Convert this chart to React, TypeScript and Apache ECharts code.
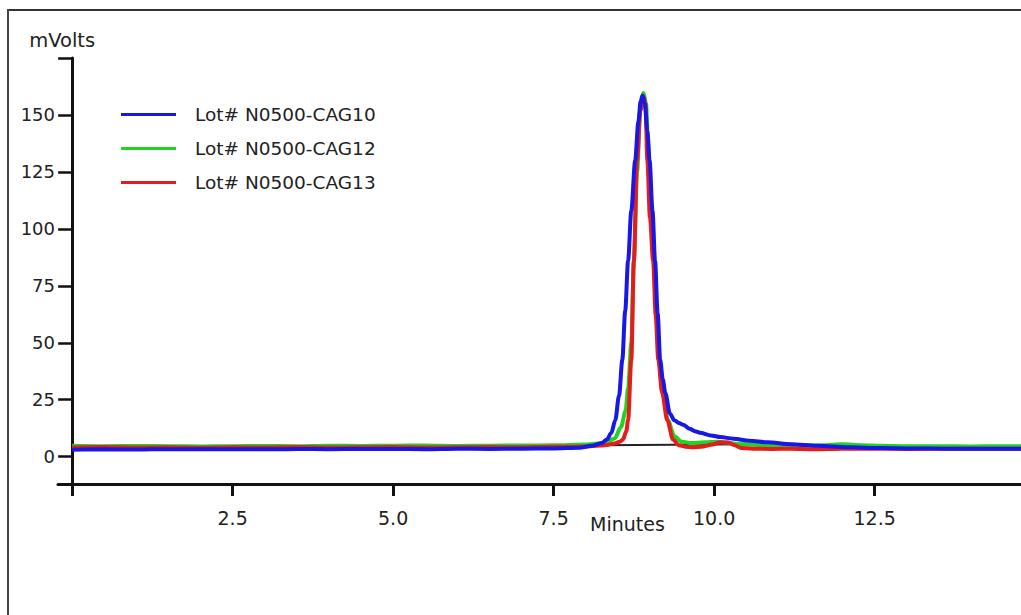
import React, { useEffect, useRef } from "react";
import * as echarts from "echarts";

const FONT = "DejaVu Sans";

const seriesNames = ["Lot# N0500-CAG10", "Lot# N0500-CAG12", "Lot# N0500-CAG13"];
const seriesColors = ["#1717e6", "#22d422", "#e61c1c"];

const blueX = [0, 0.5, 1, 1.5, 2, 2.5, 3, 3.5, 4, 4.5, 5, 5.5, 6, 6.5, 7, 7.5, 7.9, 8.1, 8.25, 8.33, 8.4, 8.46, 8.52, 8.57, 8.615, 8.66, 8.71, 8.77, 8.82, 8.855, 8.885, 8.92, 8.96, 8.995, 9.04, 9.08, 9.12, 9.16, 9.2, 9.24, 9.31, 9.38, 9.45, 9.52, 9.62, 9.7, 9.78, 9.95, 10.1, 10.3, 10.55, 10.83, 11.2, 11.6, 12.1, 12.6, 13.1, 13.6, 14.1, 14.78];
const blueY = [3.0, 3.2, 3.1, 3.3, 3.2, 3.3, 3.2, 3.4, 3.3, 3.4, 3.4, 3.3, 3.5, 3.4, 3.5, 3.6, 3.9, 4.8, 6.0, 7.5, 10.5, 16, 27, 42.5, 64, 86, 108, 130, 147, 156, 158.5, 155, 143, 130, 108, 86, 63, 42.5, 34, 28, 19, 16, 14.8, 14, 12.2, 11.2, 10.5, 9.3, 8.6, 7.9, 7.0, 6.3, 5.5, 4.8, 4.1, 3.8, 3.6, 3.5, 3.5, 3.5];

const greenX = [0, 0.5, 1, 1.5, 2, 2.5, 3, 3.5, 4, 4.5, 5, 5.5, 6, 6.5, 7, 7.5, 8.0, 8.3, 8.45, 8.55, 8.62, 8.66, 8.71, 8.75, 8.8, 8.85, 8.9, 8.94, 8.97, 9.01, 9.06, 9.1, 9.14, 9.2, 9.28, 9.38, 9.5, 9.65, 9.85, 10.05, 10.2, 10.35, 10.6, 10.9, 11.3, 11.7, 12.0, 12.3, 12.6, 13, 13.5, 14, 14.4, 14.78];
const greenY = [4.8, 4.6, 4.7, 4.6, 4.5, 4.6, 4.7, 4.6, 4.8, 4.7, 4.8, 4.9, 4.7, 4.8, 4.9, 5.0, 5.3, 6.0, 8, 13, 20, 30, 50, 86, 125, 152, 159.6, 155, 138, 112, 86, 63, 42.5, 28, 16, 9, 6.5, 6.0, 6.3, 6.5, 6.2, 5.6, 5.2, 5.0, 4.9, 5.0, 5.4, 5.0, 4.8, 4.6, 4.6, 4.5, 4.6, 4.6];

const redX = [0, 0.5, 1, 1.5, 2, 2.5, 3, 3.5, 4, 4.5, 5, 5.5, 6, 6.5, 7, 7.5, 8.0, 8.3, 8.45, 8.53, 8.58, 8.63, 8.66, 8.71, 8.75, 8.8, 8.85, 8.9, 8.93, 8.96, 9.0, 9.05, 9.09, 9.13, 9.19, 9.27, 9.36, 9.45, 9.55, 9.67, 9.8, 9.95, 10.1, 10.22, 10.32, 10.42, 10.6, 10.9, 11.2, 11.55, 12, 12.5, 13, 13.5, 14, 14.78];
const redY = [4.0, 4.2, 4.0, 4.1, 3.9, 4.1, 4.0, 4.2, 4.0, 4.1, 4.2, 4.0, 4.1, 4.2, 4.1, 4.3, 4.5, 5.0, 5.8, 6.5, 7.5, 11, 16, 42.5, 86, 130, 152, 158, 155, 130, 105, 86, 62, 42.5, 28, 16, 7.5, 5.0, 4.4, 4.1, 4.3, 5.2, 6.3, 6.2, 5.0, 3.8, 3.5, 3.4, 3.5, 3.3, 3.5, 3.5, 3.4, 3.5, 3.5, 3.5];

const baselineX = [8.18, 10.6];
const baselineY = [5.0, 5.5];

const xTicks = [0, 2.5, 5, 7.5, 10, 12.5];
const xLabels = [2.5, 5, 7.5, 10, 12.5];
const yTicks = [0, 25, 50, 75, 100, 125, 150, 175];
const yLabels = [0, 25, 50, 75, 100, 125, 150];

const pairs = (xs: number[], ys: number[]) => xs.map((x, i) => [x, ys[i]]);

export default function App() {
  const ref = useRef<HTMLDivElement>(null);
  useEffect(() => {
    if (!ref.current) return;
    const chart = echarts.init(ref.current, undefined, { renderer: "svg" });
    const lineSeries = (name: string, color: string, data: number[][]) => ({
      name,
      type: "line",
      data,
      showSymbol: false,
      smooth: 0.3,
      smoothMonotone: "x",
      color,
      lineStyle: { color, width: 4 },
      clip: true,
    });
    chart.setOption({
      animation: false,
      backgroundColor: "#ffffff",
      textStyle: { fontFamily: FONT },
      grid: { left: 58, right: 0, top: 58, bottom: 131, outerBoundsMode: "none" },
      legend: {
        orient: "vertical",
        left: 116,
        top: 100,
        itemWidth: 55,
        itemHeight: 3,
        itemGap: 15,
        icon: "rect",
        data: seriesNames,
        textStyle: { fontSize: 18.5, color: "#222", fontFamily: FONT, padding: [0, 0, 0, 14] },
      },
      xAxis: {
        type: "value",
        min: -0.22,
        max: 14.78,
        name: "Minutes",
        nameLocation: "middle",
        nameGap: 40,
        nameMoveOverlap: false,
        nameTextStyle: { fontSize: 19, color: "#222", fontFamily: FONT, padding: [0, 0, 0, 176], verticalAlign: "middle" },
        axisLine: { onZero: false, lineStyle: { color: "#111", width: 3 } },
        axisTick: { show: true, customValues: xTicks, length: 12, lineStyle: { color: "#111", width: 3 } },
        axisLabel: {
          customValues: xLabels,
          formatter: (v: number) => v.toFixed(1),
          margin: 24,
          fontSize: 19,
          color: "#222",
          fontFamily: FONT,
        },
        splitLine: { show: false },
      },
      yAxis: {
        type: "value",
        min: -12,
        max: 175,
        name: "mVolts",
        nameLocation: "end",
        nameGap: 8,
        nameTextStyle: { fontSize: 19.5, color: "#222", fontFamily: FONT, padding: [0, 20, 0, 0] },
        axisLine: { show: true, onZero: true, lineStyle: { color: "#111", width: 3 } },
        axisTick: { show: true, customValues: yTicks, length: 14, lineStyle: { color: "#111", width: 2.5 } },
        axisLabel: { customValues: yLabels, margin: 3, fontSize: 18, color: "#222", fontFamily: FONT },
        splitLine: { show: false },
      },
      graphic: [
        { type: "line", shape: { x1: 7, y1: 10, x2: 1021, y2: 10 }, style: { stroke: "#333", lineWidth: 2 } },
        { type: "line", shape: { x1: 8, y1: 9, x2: 8, y2: 615 }, style: { stroke: "#444", lineWidth: 2 } },
      ],
      series: [
        lineSeries(seriesNames[1], seriesColors[1], pairs(greenX, greenY)),
        lineSeries(seriesNames[2], seriesColors[2], pairs(redX, redY)),
        {
          name: "baseline",
          type: "line",
          data: pairs(baselineX, baselineY),
          showSymbol: false,
          color: "#222",
          lineStyle: { color: "#222", width: 2 },
          z: 1,
        },
        lineSeries(seriesNames[0], seriesColors[0], pairs(blueX, blueY)),
      ],
    });
    return () => chart.dispose();
  }, []);
  return (
    <div
      ref={ref}
      style={{ position: "fixed", left: 0, top: 0, width: 1021, height: 615, background: "#fff" }}
    />
  );
}
